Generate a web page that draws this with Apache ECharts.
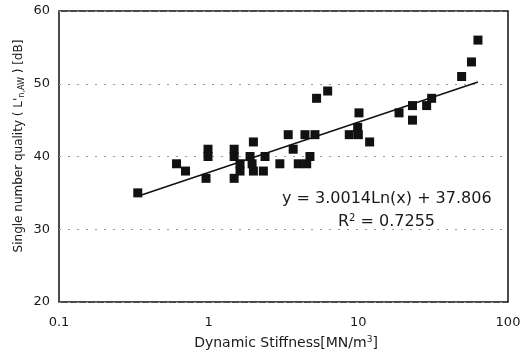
<!DOCTYPE html>
<html><head><meta charset="utf-8">
<script src="https://cdn.jsdelivr.net/npm/echarts@6/dist/echarts.min.js"></script>
<style>html,body{margin:0;padding:0;background:#fff}#c{width:530px;height:353px}</style>
</head><body><div id="c"></div>
<script>
const stiffness = [0.336,0.61,0.70,0.96,0.99,0.99,1.48,1.48,1.48,1.62,1.62,1.99,1.89,1.95,1.99,2.32,2.38,2.99,3.40,3.67,3.97,4.52,4.75,4.4,5.13,5.26,6.24,8.7,9.9,10.0,10.1,11.9,18.7,23,23,28.6,30.9,49,57,63];
const quality = [35,39,38,37,41,40,41,40,37,38,39,42,40,39,38,38,40,39,43,41,39,39,40,43,43,48,49,43,44,43,46,42,46,47,45,47,48,51,53,56];
const trendX = [0.336, 63];
const trendY = [34.53, 50.24];
const xTicks = [0.1, 1, 10, 100];
const yTicks = [20, 30, 40, 50, 60];
const eqText = 'y = 3.0014Ln(x) + 37.806';
const r2Text = '0.7255';
const xTitle = 'Dynamic Stiffness[MN/m{sup|3}]';
const yTitle = "Single number quality ( L'{sub|n,AW} ) [dB]";

const pts = stiffness.map((x,i)=>[x, quality[i]]);
const line = trendX.map((x,i)=>[x, trendY[i]]);
const font = 'DejaVu Sans, sans-serif';
const ink = '#1a1a1a';
const chart = echarts.init(document.getElementById('c'));
chart.setOption({
  animation:false,
  grid:{left:59,top:11,right:22,bottom:51,show:true,borderColor:'#111',borderWidth:1.5,backgroundColor:'#fff'},
  xAxis:{type:'log',logBase:10,min:xTicks[0],max:xTicks[xTicks.length-1],
    axisLine:{show:false},axisTick:{show:false},splitLine:{show:false},minorTick:{show:false},
    axisLabel:{color:ink,fontSize:13,fontFamily:font,margin:14,formatter:v=>String(+v.toPrecision(3))}},
  yAxis:{type:'value',min:yTicks[0],max:yTicks[yTicks.length-1],interval:10,
    axisLine:{show:false},axisTick:{show:false},
    splitLine:{show:true,lineStyle:{color:'#999',type:[2,7],width:1}},
    axisLabel:{color:ink,fontSize:13,fontFamily:font,margin:9}},
  graphic:[
    {type:'text',x:286,y:343,style:{text:xTitle,fontSize:14,fontFamily:font,fill:ink,align:'center',verticalAlign:'middle',
      rich:{sup:{fontSize:9,verticalAlign:'top',fill:ink,fontFamily:font,padding:[0,0,6,0]}}}},
    {type:'text',x:19,y:146,rotation:Math.PI/2,style:{text:yTitle,fontSize:12,fontFamily:font,fill:ink,align:'center',verticalAlign:'middle',
      rich:{sub:{fontSize:8,fill:ink,fontFamily:font,padding:[6,0,0,0]}}}},
    {type:'text',x:282,y:199,style:{text:eqText,fontSize:16,fontFamily:font,fill:ink,verticalAlign:'middle'}},
    {type:'text',x:338,y:222,style:{text:'R{s|2} = '+r2Text,fontSize:16,fontFamily:font,fill:ink,verticalAlign:'middle',
      rich:{s:{fontSize:10,fill:ink,fontFamily:font,padding:[0,0,8,0]}}}}
  ],
  series:[
    {type:'line',data:line,symbol:'none',lineStyle:{color:'#111',width:1.5},z:3},
    {type:'scatter',data:pts,symbol:'rect',symbolSize:9,itemStyle:{color:'#111',opacity:1},z:4}
  ]
});
</script></body></html>
